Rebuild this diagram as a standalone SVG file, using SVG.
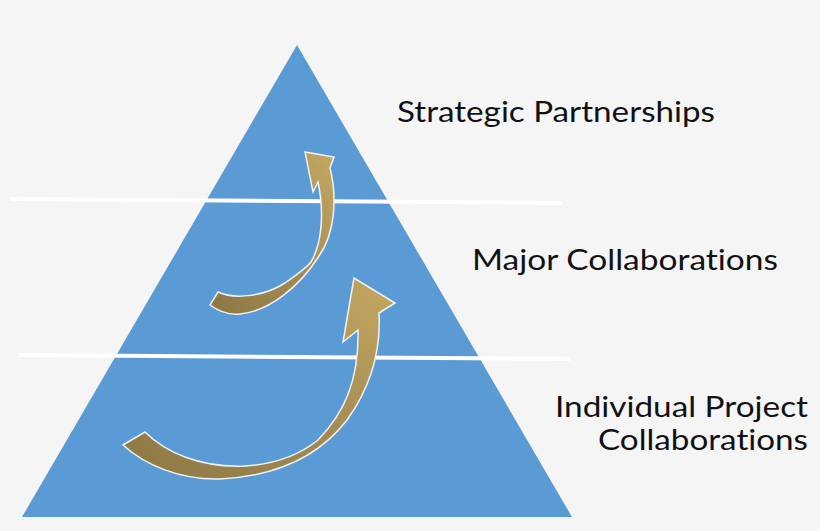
<svg xmlns="http://www.w3.org/2000/svg" width="820" height="531" viewBox="0 0 820 531">
  <defs>
    <linearGradient id="gold" x1="0" y1="1" x2="1" y2="0">
      <stop offset="0" stop-color="#8c7845"/>
      <stop offset="0.5" stop-color="#a48b52"/>
      <stop offset="1" stop-color="#c4a862"/>
    </linearGradient>
    <style>
      .lbl { font-family: Lato, "Liberation Sans", sans-serif; font-size: 29px; fill: #111111; font-variant-ligatures: none; }
      .arrow { fill: url(#gold); stroke: #f2f2f2; stroke-width: 1.5; stroke-linejoin: miter; }
      .sep { stroke: #ffffff; stroke-width: 4; }
    </style>
  </defs>
  <rect width="820" height="531" fill="#f5f5f5"/>
  <g id="pyramid">
    <polygon points="297,45 572,517 22,517" fill="#5b9bd5"/>
  </g>
  <g id="separators">
    <line class="sep" x1="11" y1="199" x2="562" y2="203"/>
    <line class="sep" x1="19" y1="355" x2="570" y2="359"/>
  </g>
  <g id="connectors">
    <path id="arrow-small" class="arrow" d="M218,292 C235,300 265,296 285,283 C298,274 306,268 311,262 C321,245 325,215 318,182 L313,192 L305,152 L334,157 L330,168 C338,200 334,235 319,256 C300,286 270,311 240,314 C228,315 218,311 210,305 Z"/>
    <path id="arrow-big" class="arrow" d="M145,432 C165,452 200,468 245,466 C280,464 303,452 318,440 C345,412 359,380 358,330 L343,342 L354,278 L395,303 L379,313 C381,350 372,385 347,420 C320,455 280,476 220,479 C180,480 145,465 123,445 Z"/>
  </g>
  <g id="label-strategic">
    <text class="lbl" x="397" y="122" textLength="318" lengthAdjust="spacingAndGlyphs">Strategic Partnerships</text>
  </g>
  <g id="label-major">
    <text class="lbl" x="472" y="270" textLength="306" lengthAdjust="spacingAndGlyphs">Major Collaborations</text>
  </g>
  <g id="label-individual">
    <text class="lbl" x="555" y="417" textLength="253" lengthAdjust="spacingAndGlyphs">Individual Project</text>
    <text class="lbl" x="598" y="450" textLength="210" lengthAdjust="spacingAndGlyphs">Collaborations</text>
  </g>
</svg>
